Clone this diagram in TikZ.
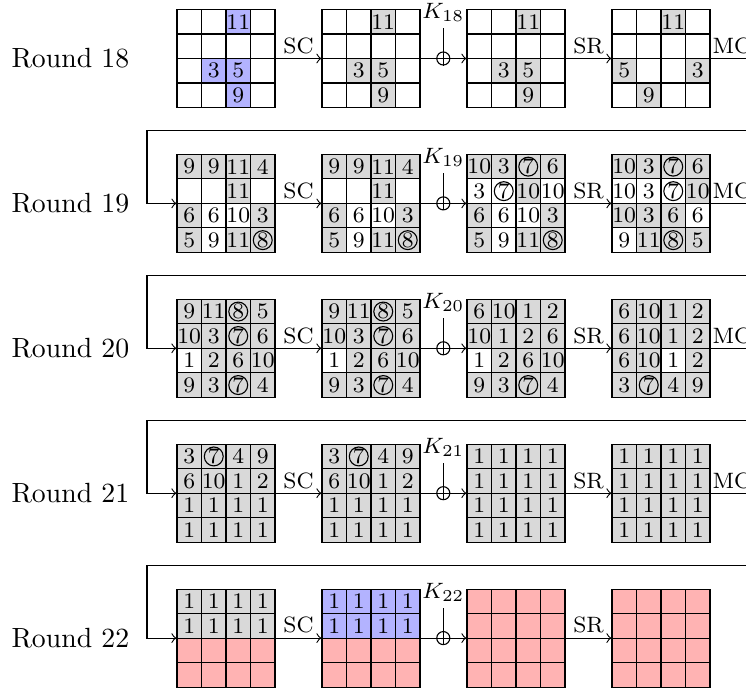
\documentclass[tikz,border=0pt]{standalone}
\begin{document}
\definecolor{cw}{RGB}{255,255,255}
\definecolor{cg}{RGB}{217,217,217}
\definecolor{cb}{RGB}{179,179,255}
\definecolor{cr}{RGB}{255,179,179}
\def\cellval#1{\if x#1\else#1\fi}
\tikzset{
  cellnum/.style={inner sep=0pt, font=\fontsize{8}{9}\selectfont},
  gridbox/.style={draw, line width=0.4pt, minimum size=35.28pt, inner sep=0pt},
  oplabel/.style={font=\fontsize{8}{9}\selectfont, above, inner sep=1.5pt},
  klab/.style={font=\fontsize{8}{9}\selectfont, anchor=south, inner sep=2.2pt},
  conn/.style={line width=0.4pt},
  xorc/.style={circle, draw, line width=0.4pt, minimum size=4.7pt, inner sep=0pt},
  rlabel/.style={anchor=west, inner sep=0pt, font=\fontsize{10}{12}\selectfont},
  ring/.style={line width=0.4pt},
}
\newcommand\mygrid[4]{%
  \foreach \v/\f/\c [count=\i from 0] in {#4} {%
    \pgfmathtruncatemacro\cc{mod(\i,4)}%
    \pgfmathtruncatemacro\rr{div(\i,4)}%
    \edef\fc{c\f}%
    \fill[fill=\fc] ({#2+\cc*24.5},{#3+\rr*24.5}) rectangle ++(24.5,24.5);
    \node[cellnum] at ({#2+\cc*24.5+12.25},{#3+\rr*24.5+12.25}) {\cellval{\v}};
    \ifnum\c=1 \draw[ring] ({#2+\cc*24.5+12.25},{#3+\rr*24.5+12.25}) circle[radius=3.4pt];\fi
  }%
  \foreach \k in {1,2,3} {%
    \draw[conn] ({#2+\k*24.5},#3) -- ++(0,98);
    \draw[conn] (#2,{#3+\k*24.5}) -- ++(98,0);
  }%
  \node[gridbox] (#1) at ({#2+49},{#3+49}) {};
}
\newcommand\rowconns[2]{% #1 round, #2 top
  \pgfmathsetmacro\cy{#2+49}
  \node[rlabel] (rl#1) at (11,\cy) {Round #1};
  \draw[conn,->] (g#1a.east) -- node[oplabel]{SC} (g#1b.west);
  \node[xorc] (x#1) at (443.3,\cy) {};
  \node[klab] (k#1) at (443.3,{#2+19}) {$K_{#1}$};
  \draw[conn,->] (g#1b.east) -- (g#1c.west);
  \draw[conn] (k#1.south) -- (x#1.south);
  \draw[conn,->] (g#1c.east) -- node[oplabel]{SR} (g#1d.west);
}
\newcommand\mcout[2]{%
  \pgfmathsetmacro\cy{#2+49}
  \coordinate (mce#1) at (770,\cy);
  \draw[conn] (g#1d.east) -- node[oplabel, pos=0.36]{MC} (mce#1);
}
\newcommand\feedback[2]{%
  \coordinate (fbs#1) at (770,{#2-24});
  \coordinate (fbt#1) at (147,{#2-24});
  \draw[conn,->] (fbs#1) -- (fbt#1) |- (g#1a.west);
}
\begin{tikzpicture}[x=0.36pt, y=-0.36pt]
\useasboundingbox (0,0) rectangle (746,690);
\clip (0,0) rectangle (746,690);
% Round 18
\mygrid{g18a}{177}{9.5}{x/w/0,x/w/0,11/b/0,x/w/0, x/w/0,x/w/0,x/w/0,x/w/0, x/w/0,3/b/0,5/b/0,x/w/0, x/w/0,x/w/0,9/b/0,x/w/0}
\mygrid{g18b}{322}{9.5}{x/w/0,x/w/0,11/g/0,x/w/0, x/w/0,x/w/0,x/w/0,x/w/0, x/w/0,3/g/0,5/g/0,x/w/0, x/w/0,x/w/0,9/g/0,x/w/0}
\mygrid{g18c}{467}{9.5}{x/w/0,x/w/0,11/g/0,x/w/0, x/w/0,x/w/0,x/w/0,x/w/0, x/w/0,3/g/0,5/g/0,x/w/0, x/w/0,x/w/0,9/g/0,x/w/0}
\mygrid{g18d}{612}{9.5}{x/w/0,x/w/0,11/g/0,x/w/0, x/w/0,x/w/0,x/w/0,x/w/0, 5/g/0,x/w/0,x/w/0,3/g/0, x/w/0,9/g/0,x/w/0,x/w/0}
\rowconns{18}{9.5}
\mcout{18}{9.5}
% Round 19
\mygrid{g19a}{177}{154.4}{9/g/0,9/g/0,11/g/0,4/g/0, x/w/0,x/w/0,11/g/0,x/w/0, 6/g/0,6/w/0,10/w/0,3/g/0, 5/g/0,9/w/0,11/g/0,8/g/1}
\mygrid{g19b}{322}{154.4}{9/g/0,9/g/0,11/g/0,4/g/0, x/w/0,x/w/0,11/g/0,x/w/0, 6/g/0,6/w/0,10/w/0,3/g/0, 5/g/0,9/w/0,11/g/0,8/g/1}
\mygrid{g19c}{467}{154.4}{10/g/0,3/g/0,7/g/1,6/g/0, 3/w/0,7/w/1,10/g/0,10/w/0, 6/g/0,6/w/0,10/w/0,3/g/0, 5/g/0,9/w/0,11/g/0,8/g/1}
\mygrid{g19d}{612}{154.4}{10/g/0,3/g/0,7/g/1,6/g/0, 10/w/0,3/w/0,7/w/1,10/g/0, 10/g/0,3/g/0,6/g/0,6/w/0, 9/w/0,11/g/0,8/g/1,5/g/0}
\rowconns{19}{154.4}
\mcout{19}{154.4}
\feedback{19}{154.4}
% Round 20
\mygrid{g20a}{177}{299.3}{9/g/0,11/g/0,8/g/1,5/g/0, 10/g/0,3/g/0,7/g/1,6/g/0, 1/w/0,2/g/0,6/g/0,10/g/0, 9/g/0,3/g/0,7/g/1,4/g/0}
\mygrid{g20b}{322}{299.3}{9/g/0,11/g/0,8/g/1,5/g/0, 10/g/0,3/g/0,7/g/1,6/g/0, 1/w/0,2/g/0,6/g/0,10/g/0, 9/g/0,3/g/0,7/g/1,4/g/0}
\mygrid{g20c}{467}{299.3}{6/g/0,10/g/0,1/g/0,2/g/0, 10/g/0,1/g/0,2/g/0,6/g/0, 1/w/0,2/g/0,6/g/0,10/g/0, 9/g/0,3/g/0,7/g/1,4/g/0}
\mygrid{g20d}{612}{299.3}{6/g/0,10/g/0,1/g/0,2/g/0, 6/g/0,10/g/0,1/g/0,2/g/0, 6/g/0,10/g/0,1/w/0,2/g/0, 3/g/0,7/g/1,4/g/0,9/g/0}
\rowconns{20}{299.3}
\mcout{20}{299.3}
\feedback{20}{299.3}
% Round 21
\mygrid{g21a}{177}{444.2}{3/g/0,7/g/1,4/g/0,9/g/0, 6/g/0,10/g/0,1/g/0,2/g/0, 1/g/0,1/g/0,1/g/0,1/g/0, 1/g/0,1/g/0,1/g/0,1/g/0}
\mygrid{g21b}{322}{444.2}{3/g/0,7/g/1,4/g/0,9/g/0, 6/g/0,10/g/0,1/g/0,2/g/0, 1/g/0,1/g/0,1/g/0,1/g/0, 1/g/0,1/g/0,1/g/0,1/g/0}
\mygrid{g21c}{467}{444.2}{1/g/0,1/g/0,1/g/0,1/g/0, 1/g/0,1/g/0,1/g/0,1/g/0, 1/g/0,1/g/0,1/g/0,1/g/0, 1/g/0,1/g/0,1/g/0,1/g/0}
\mygrid{g21d}{612}{444.2}{1/g/0,1/g/0,1/g/0,1/g/0, 1/g/0,1/g/0,1/g/0,1/g/0, 1/g/0,1/g/0,1/g/0,1/g/0, 1/g/0,1/g/0,1/g/0,1/g/0}
\rowconns{21}{444.2}
\mcout{21}{444.2}
\feedback{21}{444.2}
% Round 22
\mygrid{g22a}{177}{589.1}{1/g/0,1/g/0,1/g/0,1/g/0, 1/g/0,1/g/0,1/g/0,1/g/0, x/r/0,x/r/0,x/r/0,x/r/0, x/r/0,x/r/0,x/r/0,x/r/0}
\mygrid{g22b}{322}{589.1}{1/b/0,1/b/0,1/b/0,1/b/0, 1/b/0,1/b/0,1/b/0,1/b/0, x/r/0,x/r/0,x/r/0,x/r/0, x/r/0,x/r/0,x/r/0,x/r/0}
\mygrid{g22c}{467}{589.1}{x/r/0,x/r/0,x/r/0,x/r/0, x/r/0,x/r/0,x/r/0,x/r/0, x/r/0,x/r/0,x/r/0,x/r/0, x/r/0,x/r/0,x/r/0,x/r/0}
\mygrid{g22d}{612}{589.1}{x/r/0,x/r/0,x/r/0,x/r/0, x/r/0,x/r/0,x/r/0,x/r/0, x/r/0,x/r/0,x/r/0,x/r/0, x/r/0,x/r/0,x/r/0,x/r/0}
\rowconns{22}{589.1}
\feedback{22}{589.1}
\end{tikzpicture}
\end{document}
